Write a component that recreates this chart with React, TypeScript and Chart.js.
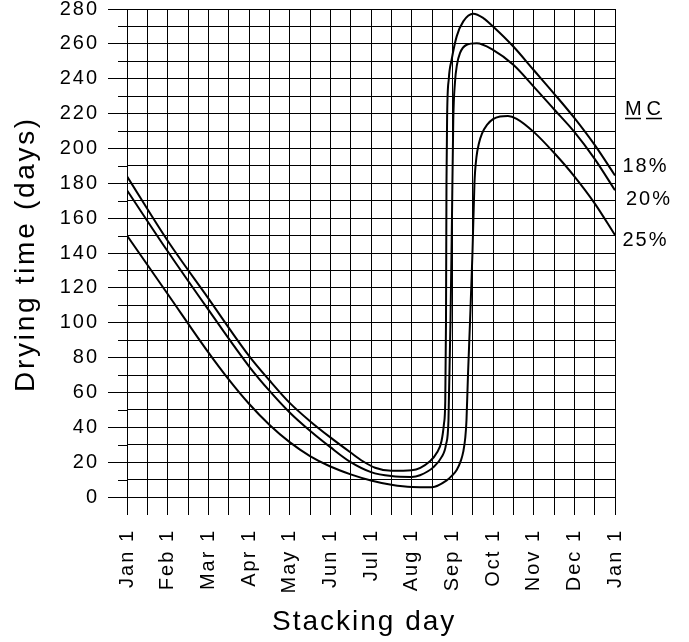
import React, { useEffect, useRef } from 'react';
import { Chart, registerables } from 'chart.js';

Chart.register(...registerables);

// ---------- data ----------
const MONTH_LABELS = ['Jan 1', 'Feb 1', 'Mar 1', 'Apr 1', 'May 1', 'Jun 1', 'Jul 1', 'Aug 1', 'Sep 1', 'Oct 1', 'Nov 1', 'Dec 1', 'Jan 1'];
const SERIES_LABELS = ['18%', '20%', '25%'];
const Y_MIN = 0;
const Y_MAX = 280;
const Y_STEP = 10;
const Y_LABEL_STEP = 20;
const X_STEP = 0.5;

// stacking day expressed in months since Jan 1; drying time in days
const MC18_MONTHS = [0, 1, 2, 3, 3.5, 4, 4.5, 5, 5.5, 5.8, 6.1, 6.5, 7.0, 7.45, 7.622, 7.733, 7.794, 7.826, 7.844, 7.856, 7.873, 7.913, 7.984, 8.107, 8.269, 8.515, 8.761, 9.0, 9.5, 10, 10.5, 11, 11.5, 12];
const MC18_DAYS = [184, 147, 114, 81, 67, 54, 43.5, 34.2, 25.5, 20.5, 16.8, 15, 15.3, 20.5, 25.5, 32, 42, 55, 100, 180, 220, 240, 251, 264.3, 272.9, 277.3, 274.8, 270, 258.5, 245, 231.5, 217.5, 202, 184.5];

const MC20_MONTHS = [0, 1, 2, 3, 3.5, 4, 4.5, 5, 5.5, 6, 6.5, 7, 7.204, 7.531, 7.738, 7.844, 7.905, 7.954, 7.991, 8.023, 8.065, 8.114, 8.188, 8.353, 8.599, 9.0, 9.5, 10, 10.5, 11, 11.5, 12];
const MC20_DAYS = [176, 141, 107.5, 75, 61, 48.5, 38, 28.6, 20, 14.3, 12, 11.5, 12.5, 17, 23, 30, 44, 100, 160, 216, 238, 248, 254.7, 259.5, 260.4, 256.6, 248, 235.5, 222.5, 209.5, 194, 176];

const MC25_MONTHS = [0, 1, 2, 2.5, 3, 3.5, 4, 4.5, 5, 5.5, 6, 6.5, 7, 7.5, 7.861, 7.979, 8.107, 8.212, 8.269, 8.318, 8.348, 8.385, 8.434, 8.495, 8.544, 8.593, 8.655, 8.729, 8.852, 9.0, 9.171, 9.368, 9.582, 10, 10.5, 11, 11.5, 12];
const MC25_DAYS = [150, 116.5, 83, 67.5, 53.5, 41.5, 31.5, 23.5, 17.5, 13, 9.5, 7, 5.7, 5.6, 9.5, 12, 15.5, 21, 26, 34, 44, 70, 100, 140, 180, 195, 203, 208.5, 213.5, 216.8, 218.3, 218.6, 217, 209.5, 197.5, 184, 168.5, 150.3];

const SERIES_MONTHS = [MC18_MONTHS, MC20_MONTHS, MC25_MONTHS];
const SERIES_DAYS = [MC18_DAYS, MC20_DAYS, MC25_DAYS];

// ---------- style ----------
const FONT = "'Liberation Sans', Arial, sans-serif";
const GRID = '#000000';
const W = 689;
const H = 642;

const isInt = (v: number) => Math.abs(v - Math.round(v)) < 1e-6;

export default function App() {
  const ref = useRef<HTMLCanvasElement>(null);

  useEffect(() => {
    const canvas = ref.current;
    if (!canvas) return;

    const extras = {
      id: 'extras',
      beforeDraw(chart: any) {
        chart.ctx.letterSpacing = '2px';
      },
      afterDraw(chart: any) {
        const ctx = chart.ctx as CanvasRenderingContext2D;
        const yS = chart.scales.y;
        const left = chart.chartArea.left;
        ctx.save();
        // shorter tick marks for the unlabelled y grid lines
        ctx.strokeStyle = GRID;
        ctx.lineWidth = 1;
        for (let v = Y_MIN + Y_STEP; v < Y_MAX; v += Y_LABEL_STEP) {
          const py = Math.round(yS.getPixelForValue(v)) + 0.5;
          ctx.beginPath();
          ctx.moveTo(left - 9, py);
          ctx.lineTo(left, py);
          ctx.stroke();
        }
        ctx.fillStyle = '#000';
        // axis titles
        ctx.font = `28px ${FONT}`;
        ctx.textBaseline = 'alphabetic';
        ctx.textAlign = 'left';
        (ctx as any).letterSpacing = '2px';
        ctx.fillText('Stacking day', 272, 630);
        ctx.save();
        ctx.translate(34, 254);
        ctx.rotate(-Math.PI / 2);
        ctx.textAlign = 'center';
        (ctx as any).letterSpacing = '2.7px';
        ctx.fillText('Drying time (days)', 0, 0);
        ctx.restore();
        // MC legend
        (ctx as any).letterSpacing = '2px';
        ctx.font = `20px ${FONT}`;
        ctx.textAlign = 'left';
        ctx.fillText('M', 625, 115);
        ctx.fillText('C', 646.5, 115);
        ctx.strokeStyle = '#000';
        ctx.lineWidth = 1.5;
        ctx.beginPath();
        ctx.moveTo(625, 118.5);
        ctx.lineTo(641, 118.5);
        ctx.moveTo(646, 118.5);
        ctx.lineTo(662, 118.5);
        ctx.stroke();
        ctx.fillText(SERIES_LABELS[0], 622.5, 172);
        ctx.fillText(SERIES_LABELS[1], 626, 205);
        ctx.fillText(SERIES_LABELS[2], 622.5, 246);
        ctx.restore();
      },
    };

    const chart = new Chart(canvas, {
      type: 'line',
      data: {
        datasets: SERIES_LABELS.map((label, s) => ({
          label,
          data: SERIES_MONTHS[s].map((m, i) => ({ x: m, y: SERIES_DAYS[s][i] })),
          borderColor: '#000',
          borderWidth: 2,
          pointRadius: 0,
          fill: false,
          cubicInterpolationMode: 'monotone' as const,
        })),
      },
      options: {
        responsive: false,
        maintainAspectRatio: false,
        devicePixelRatio: 1,
        animation: false,
        layout: { padding: { left: 0, right: W - 615, top: 9, bottom: 0 } },
        plugins: { legend: { display: false }, tooltip: { enabled: false } },
        scales: {
          x: {
            type: 'linear',
            position: 'bottom',
            min: 0,
            max: 12,
            border: { display: false },
            grid: {
              color: GRID,
              tickColor: GRID,
              tickLength: 18,
              lineWidth: 1,
            },
            ticks: {
              stepSize: X_STEP,
              autoSkip: false,
              maxRotation: 90,
              minRotation: 90,
              padding: 14,
              color: '#000',
              font: { family: FONT, size: 20 },
              callback: (v: any) => (isInt(Number(v)) ? MONTH_LABELS[Math.round(Number(v))] : ''),
            },
            afterFit: (scale: any) => {
              scale.height = H - 497;
              scale.paddingLeft = 0;
              scale.paddingRight = 0;
            },
          },
          y: {
            type: 'linear',
            min: Y_MIN,
            max: Y_MAX,
            border: { display: false },
            grid: {
              color: GRID,
              tickColor: (c: any) => (c.tick.value % Y_LABEL_STEP === 0 ? GRID : 'rgba(0,0,0,0)'),
              tickLength: 19,
              lineWidth: 1,
            },
            ticks: {
              stepSize: Y_STEP,
              autoSkip: false,
              padding: 9,
              color: '#000',
              font: { family: FONT, size: 20 },
              callback: (v: any) => (Number(v) % Y_LABEL_STEP === 0 ? String(v) : ''),
            },
            afterFit: (scale: any) => {
              scale.width = 127;
              scale.paddingTop = 0;
              scale.paddingBottom = 0;
            },
          },
        },
      },
      plugins: [extras],
    });

    return () => chart.destroy();
  }, []);

  return (
    <div style={{ position: 'fixed', left: 0, top: 0, width: W, height: H, background: '#fff' }}>
      <canvas ref={ref} width={W} height={H} style={{ display: 'block', width: W, height: H }} />
    </div>
  );
}
